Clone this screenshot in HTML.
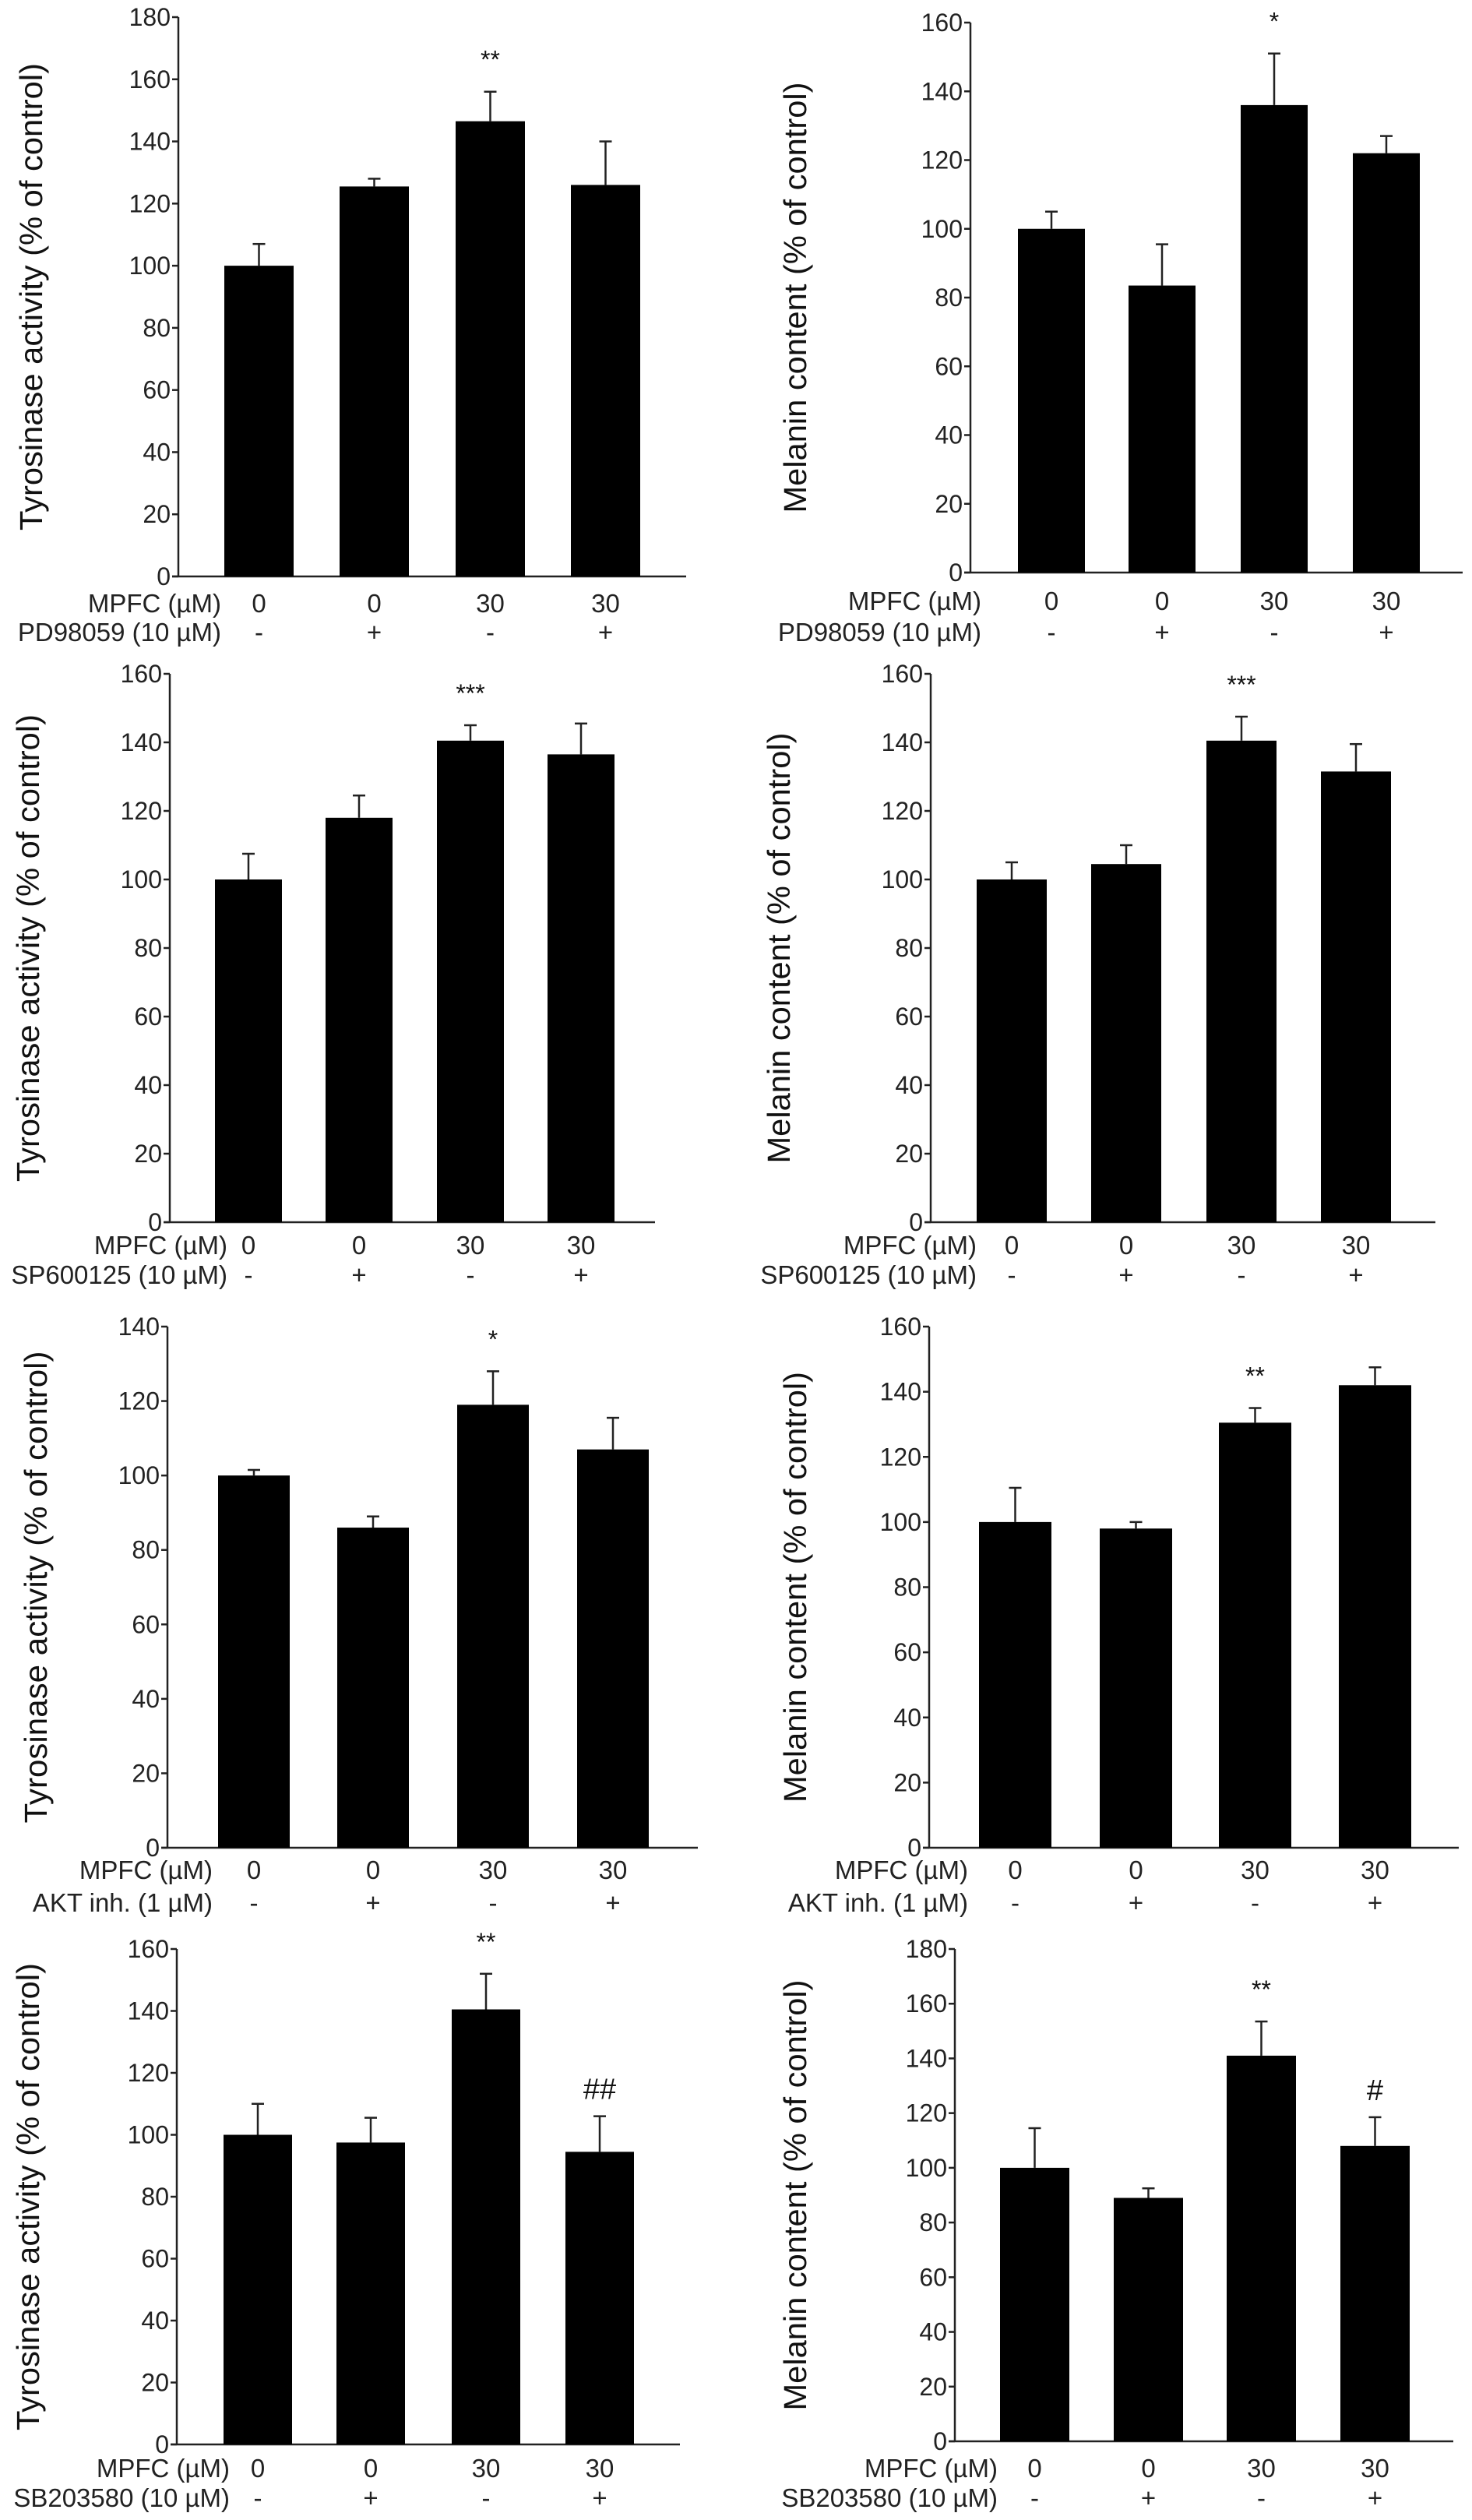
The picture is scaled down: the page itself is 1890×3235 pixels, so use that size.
<!DOCTYPE html>
<html><head><meta charset="utf-8">
<style>
html,body{margin:0;padding:0;background:#fff;}
svg{display:block;font-family:"Liberation Sans",Arial,sans-serif;}
</style></head>
<body>
<svg id="fig" width="1890" height="3235" viewBox="0 0 1890 3235" xmlns="http://www.w3.org/2000/svg"></svg>
<script>
// ---- data ----
const mpfcLabels = ["0","0","30","30"];
const inhLabels = ["-","+","-","+"];
const vals1 = [100, 125.5, 146.5, 126];
const errs1 = [107, 128, 156, 140];
const vals2 = [100, 83.5, 136, 122];
const errs2 = [105, 95.5, 151, 127];
const vals3 = [100, 118, 140.5, 136.5];
const errs3 = [107.5, 124.5, 145, 145.5];
const vals4 = [100, 104.5, 140.5, 131.5];
const errs4 = [105, 110, 147.5, 139.5];
const vals5 = [100, 86, 119, 107];
const errs5 = [101.5, 89, 128, 115.5];
const vals6 = [100, 98, 130.5, 142];
const errs6 = [110.5, 100, 135, 147.5];
const vals7 = [100, 97.5, 140.5, 94.5];
const errs7 = [110, 105.5, 152, 106];
const vals8 = [100, 89, 141, 108];
const errs8 = [114.5, 92.5, 153.5, 118.5];
const sig1 = ["", "", "**", ""];
const sig2 = ["", "", "*", ""];
const sig3 = ["", "", "***", ""];
const sig4 = ["", "", "***", ""];
const sig5 = ["", "", "*", ""];
const sig6 = ["", "", "**", ""];
const sig7 = ["", "", "**", "##"];
const sig8 = ["", "", "**", "#"];
const yMax1 = 180, yMax2 = 160, yMax3 = 160, yMax4 = 160, yMax5 = 140, yMax6 = 160, yMax7 = 160, yMax8 = 180;

// ---- layout ----
const TYR = "Tyrosinase activity (% of control)";
const MEL = "Melanin content (% of control)";
const panels = [
 {v:vals1,e:errs1,s:sig1,max:yMax1,ax:229,end:881,top:22,y0:740,bars:[288,436,585,733],w:89,rows:[774,811],lend:284,title:TYR,tx:40,tl:600,inh:"PD98059 (10 µM)"},
 {v:vals2,e:errs2,s:sig2,max:yMax2,ax:1246,end:1878,top:29,y0:735,bars:[1307,1449,1593,1737],w:86,rows:[771,811],lend:1260,title:MEL,tx:1021,tl:553,inh:"PD98059 (10 µM)"},
 {v:vals3,e:errs3,s:sig3,max:yMax3,ax:218,end:841,top:865,y0:1569,bars:[276,418,561,703],w:86,rows:[1598,1636],lend:292,title:TYR,tx:36,tl:600,inh:"SP600125 (10 µM)"},
 {v:vals4,e:errs4,s:sig4,max:yMax4,ax:1195,end:1843,top:865,y0:1569,bars:[1254,1401,1549,1696],w:90,rows:[1598,1636],lend:1254,title:MEL,tx:1000,tl:553,inh:"SP600125 (10 µM)"},
 {v:vals5,e:errs5,s:sig5,max:yMax5,ax:215,end:896,top:1703,y0:2372,bars:[280,433,587,741],w:92,rows:[2400,2442],lend:273,title:TYR,tx:46,tl:606,inh:"AKT inh. (1 µM)"},
 {v:vals6,e:errs6,s:sig6,max:yMax6,ax:1193,end:1873,top:1703,y0:2372,bars:[1257,1412,1565,1719],w:93,rows:[2400,2442],lend:1243,title:MEL,tx:1021,tl:553,inh:"AKT inh. (1 µM)"},
 {v:vals7,e:errs7,s:sig7,max:yMax7,ax:227,end:873,top:2502,y0:3138,bars:[287,432,580,726],w:88,rows:[3168,3206],lend:295,title:TYR,tx:36,tl:600,inh:"SB203580 (10 µM)"},
 {v:vals8,e:errs8,s:sig8,max:yMax8,ax:1226,end:1866,top:2502,y0:3134,bars:[1284,1430,1575,1721],w:89,rows:[3168,3206],lend:1281,title:MEL,tx:1021,tl:553,inh:"SB203580 (10 µM)"}
];
const NS = "http://www.w3.org/2000/svg";
const svg = document.getElementById('fig');
function mk(tag, attrs, parent){
  const el = document.createElementNS(NS, tag);
  for (const k in attrs) el.setAttribute(k, attrs[k]);
  (parent||svg).appendChild(el);
  return el;
}
panels.forEach((p, pi) => {
  const g = mk('g', {});
  
  
  const yScale = v => p.y0 - (v / p.max) * (p.y0 - p.top);
  const ya = mk('line', {x1:p.ax, y1:p.top, x2:p.ax, y2:p.y0, stroke:'#222', 'stroke-width':2.5}, g);
  
  
  const xa = mk('line', {x1:p.ax-8, y1:p.y0, x2:p.end, y2:p.y0, stroke:'#222', 'stroke-width':2.5}, g);
  
  
  for (let t = 0; t <= p.max; t += 20) {
    const y = yScale(t);
    const tk = mk('line', {x1:p.ax-8, y1:y, x2:p.ax, y2:y, stroke:'#222', 'stroke-width':2.5}, g);
    
    
    const tl = mk('text', {x:p.ax-10, y:y+11, 'text-anchor':'end', 'font-size':32, fill:'#222'}, g);
    tl.textContent = String(t);
    
    
  }
  const cy = (p.top + p.y0) / 2;
  const tt = mk('text', {x:p.tx, y:cy, 'text-anchor':'middle', 'font-size':41, fill:'#111', transform:`rotate(-90 ${p.tx} ${cy})`, dy:14, textLength:p.tl, lengthAdjust:'spacingAndGlyphs'}, g);
  tt.textContent = p.title;
  
  
  p.v.forEach((val, i) => {
    const x = p.bars[i], cx = x + p.w/2;
    const yv = yScale(val), ye = yScale(p.e[i]);
    const eb = mk('line', {x1:cx, y1:ye, x2:cx, y2:yv, stroke:'#222', 'stroke-width':2.5}, g);
    
    
    const ec = mk('line', {x1:cx-8, y1:ye, x2:cx+8, y2:ye, stroke:'#222', 'stroke-width':2.5}, g);
    
    
    const r = mk('rect', {x:x, y:yv, width:p.w, height:p.y0 - yv, fill:'#000'}, g);
    
    
    if (p.s[i]) {
      const isHash = p.s[i].indexOf('#') >= 0;
      const st = mk('text', {x:cx, y:ye - (isHash ? 22 : 30), 'text-anchor':'middle', 'font-size': isHash ? 38 : 32, fill:'#111'}, g);
      st.textContent = p.s[i];
      
      
    }
    const l1 = mk('text', {x:cx, y:p.rows[0]+12, 'text-anchor':'middle', 'font-size':33, fill:'#222'}, g);
    l1.textContent = mpfcLabels[i];
    
    
    const l2 = mk('text', {x:cx, y:p.rows[1]+12, 'text-anchor':'middle', 'font-size':33, fill:'#222'}, g);
    l2.textContent = inhLabels[i];
    
    
  });
  const r1 = mk('text', {x:p.lend, y:p.rows[0]+12, 'text-anchor':'end', 'font-size':33, fill:'#222'}, g);
  r1.textContent = 'MPFC (µM)';
  
  
  const r2 = mk('text', {x:p.lend, y:p.rows[1]+12, 'text-anchor':'end', 'font-size':33, fill:'#222'}, g);
  r2.textContent = p.inh;
  
  
});
</script>
</body></html>
